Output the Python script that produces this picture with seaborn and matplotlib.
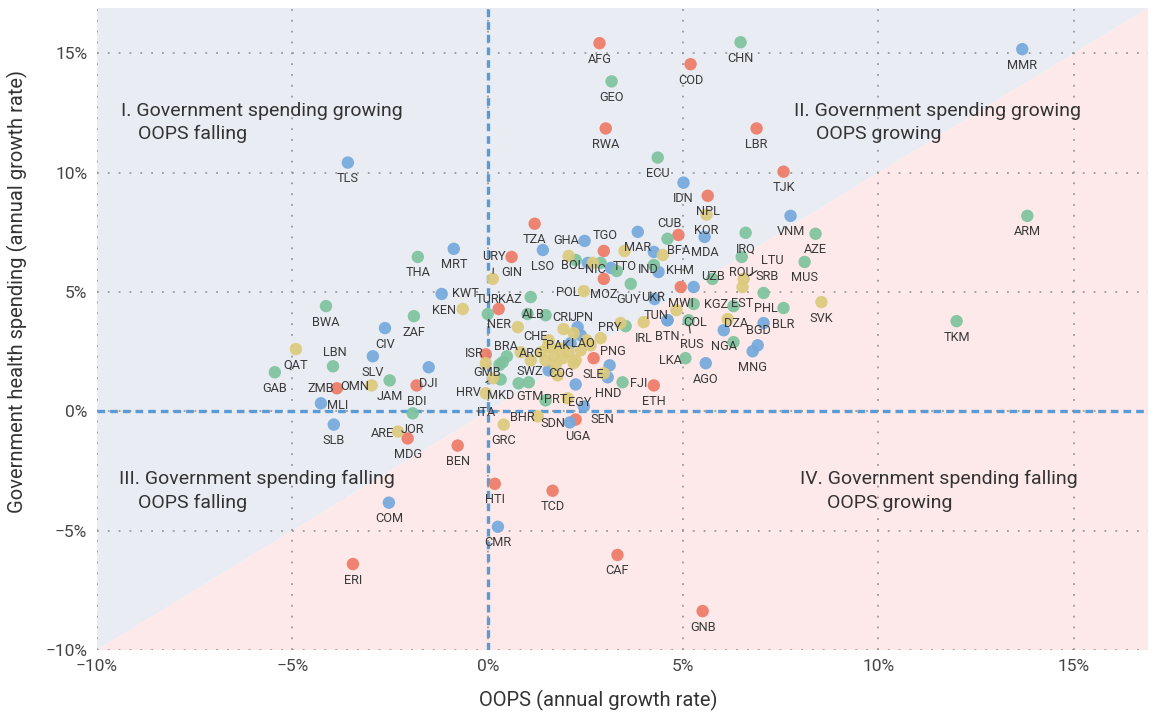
import pandas as pd
import seaborn as sns
import matplotlib.pyplot as plt
from matplotlib.ticker import MultipleLocator, FuncFormatter

# low income (red)
low_codes = ["AFG", "COD", "RWA", "LBR", "TJK", "NPL", "TZA", "GIN", "TGO", "BFA",
             "MOZ", "MWI", "NER", "GMB", "SLE", "ETH", "SDN", "BDI", "ZMB", "MDG",
             "BEN", "ERI", "HTI", "TCD", "CAF", "GNB"]
low_x = [2.86, 5.19, 3.02, 6.88, 7.57, 5.63, 1.20, 0.61, 2.97, 4.88,
         2.97, 4.94, 0.28, -0.05, 2.71, 4.25, 2.25, -1.82, -3.86, -2.05,
         -0.77, -3.45, 0.18, 1.66, 3.32, 5.50]
low_y = [15.42, 14.54, 11.85, 11.85, 10.04, 9.03, 7.86, 6.47, 6.72, 7.39,
         5.55, 5.21, 4.29, 2.39, 2.23, 1.09, -0.34, 1.09, 0.97, -1.13,
         -1.43, -6.39, -3.03, -3.32, -6.01, -8.36]

# lower-middle income (blue)
lmi_codes = ["MMR", "TLS", "IDN", "VNM", "MDA", "MAR", "GHA", "LSO", "MRT", "BOL",
             "IND", "KHM", "KGZ", "UKR", "KWT", "BTN", "TUN", "JPN", "PAK", "LAO",
             "PNG", "HND", "EGY", "SEN", "UGA", "COG", "NGA", "PHL", "BGD", "MNG",
             "AGO", "DJI", "SLV", "CIV", "MLI", "SLB", "COM", "CMR", ""]
lmi_x = [13.68, -3.58, 5.01, 7.75, 5.55, 3.84, 2.48, 1.41, -0.87, 2.56,
         4.25, 4.37, 5.27, 4.27, -1.18, 4.60, 4.60, 2.30, 2.12, 2.38,
         3.12, 3.07, 2.25, 2.46, 2.10, 1.56, 6.04, 7.06, 6.91, 6.78,
         5.58, -1.51, -2.94, -2.63, -4.27, -3.94, -2.53, 0.26, 3.15]
lmi_y = [15.17, 10.42, 9.58, 8.19, 7.31, 7.52, 7.14, 6.76, 6.81, 6.22,
         6.68, 5.84, 5.21, 4.71, 4.92, 3.82, 3.82, 3.53, 2.86, 3.19,
         1.93, 1.43, 1.13, 0.21, -0.46, 1.72, 3.40, 3.70, 2.77, 2.52,
         2.02, 1.85, 2.31, 3.49, 0.34, -0.55, -3.82, -4.83, 6.01]

# upper-middle income (green)
umi_codes = ["CHN", "GEO", "ECU", "ARM", "AZE", "IRQ", "CUB", "ROU", "MUS", "SRB",
             "BLR", "TKM", "THA", "BWA", "ZAF", "LBN", "GAB", "JAM", "JOR", "GUY",
             "TUR", "KAZ", "ALB", "NIC", "COL", "RUS", "LKA", "FJI", "GTM", "BRA",
             "MKD", "PRY", "UZB", "SWZ", "", "", "", "", "", "", "", "", ""]
umi_x = [6.47, 3.17, 4.35, 13.81, 8.39, 6.60, 4.60, 6.50, 8.11, 7.06,
         7.57, 12.00, -1.79, -4.14, -1.89, -3.96, -5.45, -2.51, -1.92, 3.66,
         0.00, 1.10, 1.48, 2.89, 5.27, 5.14, 5.06, 3.45, 1.05, 0.49,
         0.33, 3.53, 5.75, 0.79, 6.29, 6.29, 1.02, 4.25, 2.25, 3.30, 0.38, 1.48, 0.30]
umi_y = [15.46, 13.82, 10.63, 8.19, 7.44, 7.48, 7.23, 6.47, 6.26, 4.96,
         4.33, 3.78, 6.47, 4.41, 3.99, 1.89, 1.64, 1.30, -0.08, 5.34,
         4.08, 4.79, 4.03, 6.22, 4.50, 3.82, 2.23, 1.22, 1.22, 2.31,
         1.34, 3.57, 5.55, 1.18, 4.41, 2.90, 4.08, 6.13, 6.34, 5.88, 2.06, 0.46, 1.95]

# high income (yellow)
high_codes = ["KOR", "TTO", "URY", "POL", "KEN", "QAT", "OMN", "ARE", "GRC", "BHR",
              "ITA", "HRV", "ISR", "CHE", "ARG", "CRI", "IRL", "DZA", "LTU", "EST",
              "SVK", "PRT", "", "", "", "", "", "", "", "", "", "", "", "", "", "",
              "", "", "", "", "", "", "", "", "", ""]
high_x = [5.60, 3.50, 0.13, 2.46, -0.64, -4.91, -2.97, -2.30, 0.41, 1.28,
          -0.05, 0.13, -0.05, 1.53, 0.84, 1.94, 3.99, 6.14, 6.55, 6.52,
          8.54, 2.05, 2.07, 2.69, 4.83, 0.77, 2.20, 3.40, 1.79, 2.97, 1.36, 1.48,
          1.69, 1.82, 1.92, 2.07, 2.25, 2.38, 2.63, 2.89, 2.53, 2.20, 1.74, 1.56, 1.10, 4.48]
high_y = [8.24, 6.72, 5.55, 5.04, 4.29, 2.61, 1.09, -0.84, -0.55, -0.21,
          0.76, 1.39, 2.02, 2.69, 2.48, 3.45, 3.74, 3.87, 5.55, 5.21,
          4.58, 0.55, 6.51, 6.22, 4.24, 3.53, 3.28, 3.70, 1.51, 1.60, 2.48, 2.14,
          2.35, 2.65, 2.23, 2.48, 2.14, 2.56, 2.77, 3.07, 2.98, 2.02, 1.93, 2.98, 2.14, 6.55]

COLORS = {"low": "#EE7B67", "lmi": "#74A9DC", "umi": "#7EC39D", "high": "#DCCA7C"}

# label offsets in pixels (dx, dy up); default is centred just below the dot
LABEL_OFFSETS = {
    "TGO": (1, 15), "SDN": (-23, -4), "ZMB": (-16, 0), "GMB": (1, -18),
    "TUN": (-11, 5), "JPN": (4, 10), "PAK": (-13, -2), "LAO": (2, -8),
    "GHA": (-18, 0), "BOL": (-15, -3), "IND": (-6, -18), "KHM": (22, 1),
    "KGZ": (22, -17), "UKR": (-2, 1), "KWT": (24, 0), "PNG": (3, 14),
    "EGY": (4, -18), "SEN": (19, -13), "UGA": (8, -14), "COG": (12, -3),
    "PHL": (2, 15), "BGD": (1, 15), "MLI": (17, -2),
    "CUB": (2, 15), "SRB": (3, 16), "LBN": (2, 14), "TUR": (0, 15),
    "KAZ": (-21, -2), "ALB": (-12, 1), "NIC": (-5, -7), "COL": (1, -19),
    "RUS": (3, -24), "LKA": (-15, -2), "FJI": (16, -1), "GTM": (1, -14),
    "BRA": (-1, 10), "PRY": (-16, -1), "UZB": (1, 2), "SWZ": (11, 12),
    "URY": (1, 22), "POL": (-16, -1), "KEN": (-19, -2), "OMN": (-17, -1),
    "ARE": (-15, -2), "BHR": (-15, -1), "ITA": (1, -19), "HRV": (-24, -14),
    "ISR": (-12, 10), "CHE": (-12, 11), "ARG": (11, -1), "CRI": (-2, 12),
    "DZA": (8, -4), "LTU": (29, 18), "PRT": (-12, -1), "GUY": (-2, -16),
}
LEADERS = {"URY", "HRV", "LTU", "RUS"}

frames = []
for grp, codes, xs, ys in [("low", low_codes, low_x, low_y),
                           ("lmi", lmi_codes, lmi_x, lmi_y),
                           ("umi", umi_codes, umi_x, umi_y),
                           ("high", high_codes, high_x, high_y)]:
    frames.append(pd.DataFrame({"code": codes, "oops": xs, "gov": ys, "group": grp}))
df = pd.concat(frames, ignore_index=True)

sns.set_style("white")
plt.rcParams["font.family"] = ["Roboto", "DejaVu Sans"]

fig, ax = plt.subplots(figsize=(11.55, 7.13), dpi=100)
fig.subplots_adjust(left=0.084, right=0.994, bottom=0.088, top=0.989)

lo, hi = -10, 16.9
ax.fill([lo, lo, hi], [lo, hi, hi], color="#E9ECF3", lw=0, zorder=0)
ax.fill([lo, hi, hi], [lo, lo, hi], color="#FDE9E9", lw=0, zorder=0)
ax.set_xlim(lo, hi)
ax.set_ylim(lo, hi)

ax.set_axisbelow(True)
ax.grid(True, linestyle=(0, (1, 5)), color="#9a9a9a", linewidth=1.3)
ax.axvline(0, color="#5B9BD5", lw=2.4, ls=(0, (2.3, 1.5)), zorder=1.5)
ax.axhline(0, color="#5B9BD5", lw=2.4, ls=(0, (2.3, 1.5)), zorder=1.5)

sns.scatterplot(data=df, x="oops", y="gov", hue="group", palette=COLORS,
                s=80, alpha=0.92, linewidth=0, legend=False, ax=ax, zorder=3)

for _, row in df.iterrows():
    if not row["code"]:
        continue
    off = LABEL_OFFSETS.get(row["code"], (0, -16))
    arrow = None
    if row["code"] in LEADERS:
        arrow = dict(arrowstyle="-", color="#333333", lw=0.8, shrinkA=1, shrinkB=4)
    ax.annotate(row["code"], (row["oops"], row["gov"]), xytext=off,
                textcoords="offset pixels", ha="center", va="center",
                fontsize=9.2, color="#3a3a3a", zorder=4, arrowprops=arrow)

qkw = dict(fontsize=14, color="#333333", va="baseline", ha="left", zorder=5)
ax.text(-9.39, 12.39, "I. Government spending growing", **qkw)
ax.text(-8.96, 11.39, "OOPS falling", **qkw)
ax.text(7.83, 12.39, "II. Government spending growing", **qkw)
ax.text(8.39, 11.39, "OOPS growing", **qkw)
ax.text(-9.44, -3.03, "III. Government spending falling", **qkw)
ax.text(-8.96, -4.03, "OOPS falling", **qkw)
ax.text(8.0, -3.03, "IV. Government spending falling", **qkw)
ax.text(8.67, -4.03, "OOPS growing", **qkw)

pct = FuncFormatter(lambda v, _: f"{v:.0f}%".replace("-", "\u2212"))
for axis in (ax.xaxis, ax.yaxis):
    axis.set_major_locator(MultipleLocator(5))
    axis.set_major_formatter(pct)
ax.tick_params(length=0, labelsize=12.5, labelcolor="#444444")
ax.tick_params(axis="x", pad=6)
ax.tick_params(axis="y", pad=7)
sns.despine(ax=ax, left=True, bottom=True)

ax.set_xlabel("OOPS (annual growth rate)", fontsize=14.5, color="#333333")
ax.set_ylabel("Government health spending (annual growth rate)", fontsize=14.5, color="#333333")
ax.xaxis.set_label_coords(0.477, -0.062)
ax.yaxis.set_label_coords(-0.066, 0.558)

fig.savefig("out.png", dpi=100)
